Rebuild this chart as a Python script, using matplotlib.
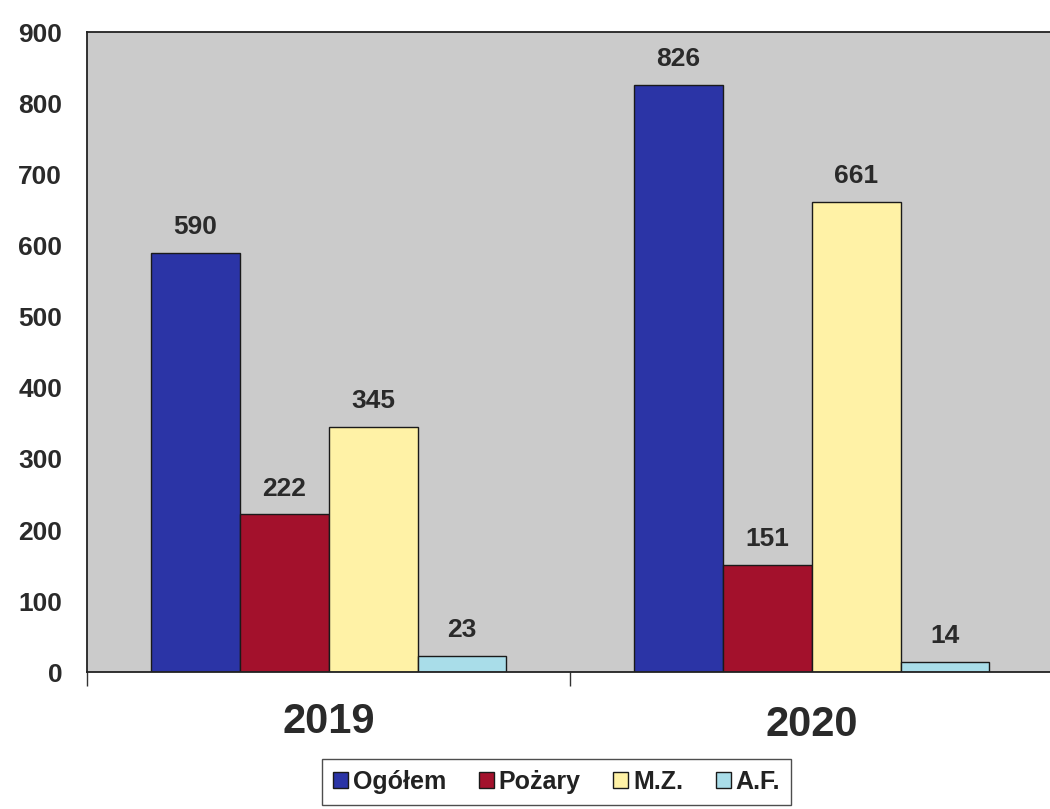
import matplotlib
matplotlib.use("Agg")
import matplotlib.pyplot as plt
import numpy as np

years = ["2019", "2020"]
series_names = ["Ogółem", "Pożary", "M.Z.", "A.F."]
ogolem = [590, 826]
pozary = [222, 151]
mz = [345, 661]
af = [23, 14]
colors = ["#2b34a6", "#a3112c", "#fff2a6", "#a9dde9"]
yticks = [0, 100, 200, 300, 400, 500, 600, 700, 800, 900]

plt.rcParams['font.family'] = ['Liberation Sans', 'DejaVu Sans']

fig = plt.figure(figsize=(10.5, 8.09), dpi=100)
ax = fig.add_axes([0.083, 0.169, 0.92, 0.791])
ax.set_facecolor("#cbcbcb")

x = np.arange(len(years))
w = 0.184
all_series = [ogolem, pozary, mz, af]
for i, (vals, col, name) in enumerate(zip(all_series, colors, series_names)):
    pos = x + (i - 1.5) * w
    bars = ax.bar(pos, vals, width=w, color=col, edgecolor="#1a1a1a", linewidth=1.0, label=name)
    for b, v in zip(bars, vals):
        ax.annotate(str(v), (b.get_x() + b.get_width() / 2, v), xytext=(0, 10),
                    textcoords="offset points", ha="center", va="bottom",
                    fontsize=19, fontweight="bold", color="#2a2a2a")

ax.set_xlim(-0.5, 1.5)
ax.set_ylim(0, 900)
ax.set_yticks(yticks)
ax.set_yticklabels([str(t) for t in yticks], fontsize=19, fontweight="bold", color="#2a2a2a")
ax.tick_params(axis="y", length=0, pad=18)
ax.set_xticks([-0.5, 0.5, 1.5])
ax.set_xticklabels([])
ax.tick_params(axis="x", length=10, width=1, color="#333333")
for yr, xi, yy in zip(years, x, [-0.077, -0.082]):
    ax.text(xi, yy, yr, transform=ax.get_xaxis_transform(), ha="center", va="center",
            fontsize=30, fontweight="bold", color="#2a2a2a")

for s in ["top", "left", "bottom"]:
    ax.spines[s].set_color("#222222")
    ax.spines[s].set_linewidth(1.3)
ax.spines["right"].set_visible(False)

leg = fig.legend(loc="center", bbox_to_anchor=(0.53, 0.0334), ncol=4, frameon=True,
                 fancybox=False, edgecolor="#222222", handlelength=0.6, handleheight=0.6,
                 handletextpad=0.2, columnspacing=1.3, borderpad=0.45,
                 prop={"size": 18, "weight": "bold"})
leg.get_frame().set_linewidth(1.0)
for t in leg.get_texts():
    t.set_color("#222222")

fig.savefig("out.png", dpi=100, facecolor="white")
